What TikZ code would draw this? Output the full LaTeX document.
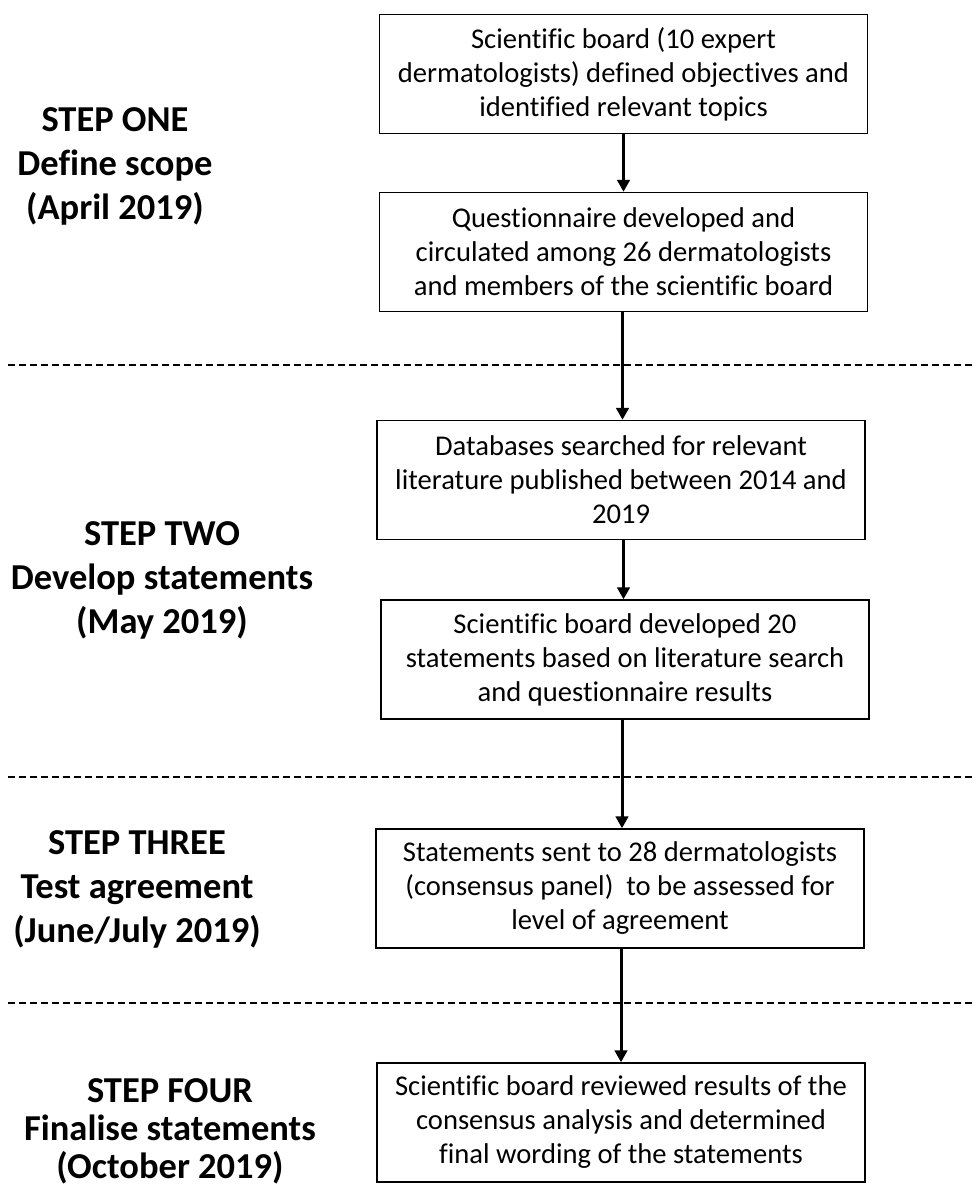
\documentclass[tikz,border=0pt]{standalone}
\usepackage{fontspec}
\setmainfont[Ligatures=NoCommon]{Carlito}
\usetikzlibrary{arrows.meta}
\tikzset{
  box/.style={draw=black, line width=1.4pt, minimum width=488pt, minimum height=119pt,
    inner sep=0pt, align=center, font=\fontsize{28.6}{34}\selectfont},
  steplabel/.style={align=center, inner sep=0pt, font=\fontsize{36.5}{44}\selectfont\bfseries},
  arr/.style={line width=3pt, -{Triangle[length=12pt,width=12.5pt]}},
  sep/.style={line width=1.8pt, dash pattern=on 7pt off 4pt}
}
\begin{document}
\begin{tikzpicture}[x=1pt,y=-1pt]
\useasboundingbox (0,0) rectangle (975,1186);
% boxes
\node[box] (b1) at (623.5,74) {Scientific board (10 expert\\dermatologists) defined objectives and\\identified relevant topics};
\node[box] (b2) at (623.5,252) {Questionnaire developed and\\circulated among 26 dermatologists\\and members of the scientific board};
\node[box] (b3) at (621,480) {Databases searched for relevant\\literature published between 2014 and\\2019};
\node[box] (b4) at (625,659.5) {Scientific board developed 20\\statements based on literature search\\and questionnaire results};
\node[box] (b5) at (620,888.5) {Statements sent to 28 dermatologists\\(consensus panel)\ \ to be assessed for\\level of agreement};
\node[box] (b6) at (621,1122.5) {Scientific board reviewed results of the\\consensus analysis and determined\\final wording of the statements};
% step labels
\node[steplabel] (s1) at (115,166) {STEP ONE\\Define scope\\(April 2019)};
\node[steplabel] (s2) at (162,580) {STEP TWO\\Develop statements\\(May 2019)};
\node[steplabel] (s3) at (137,889) {STEP THREE\\Test agreement\\(June/July 2019)};
\node[steplabel, font=\fontsize{36.5}{38}\selectfont\bfseries] (s4) at (170,1131) {STEP FOUR\\Finalise statements\\(October 2019)};
% separators
\coordinate (d1l) at (8,365); \coordinate (d1r) at (975,365);
\coordinate (d2l) at (8,777); \coordinate (d2r) at (975,777);
\coordinate (d3l) at (8,1003); \coordinate (d3r) at (975,1003);
\draw[sep] (d1l) -- (d1r);
\draw[sep] (d2l) -- (d2r);
\draw[sep] (d3l) -- (d3r);
% arrows
\draw[arr] (b1.south) -- (b1.south |- b2.north);
\draw[arr] ([xshift=-1pt]b2.south) -- ([xshift=-1pt]b2.south |- b3.north);
\draw[arr] (b3.south -| b1.south) -- (b4.north -| b1.south);
\draw[arr] ([xshift=-1.5pt]b4.south -| b1.south) -- ([xshift=-1.5pt]b5.north -| b1.south);
\draw[arr] (b5.south -| b6.north) -- (b6.north);
\end{tikzpicture}
\end{document}
